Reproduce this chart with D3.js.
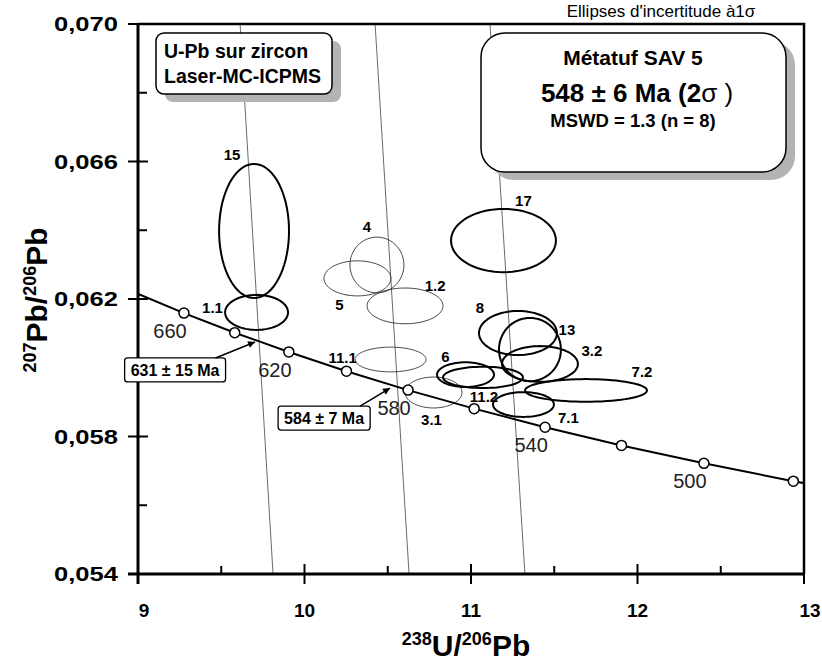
<!DOCTYPE html>
<html>
<head>
  <meta charset="UTF-8" />
  <title>Concordia SAV 5</title>
  <script src="https://d3js.org/d3.v7.min.js"></script>
  <style>
    body { margin: 0; background: #fff; }
    svg { font-family: "Liberation Sans", Arial, sans-serif; }
    .tick-label { font-weight: bold; font-size: 19px; }
    .ell-label { font-weight: bold; font-size: 15px; }
    .age-label { font-size: 20px; fill: #222; }
  </style>
</head>
<body>
<svg id="chart" width="822" height="664"></svg>
<script>
  // ---- données ----
  const xTicks = [9, 10, 11, 12, 13];
  const xMinor = [9.5, 10.5, 11.5, 12.5];
  const yTicks = [0.054, 0.058, 0.062, 0.066, 0.070];
  const yMinor = [0.056, 0.060, 0.064, 0.068];

  // courbe concordia (âges en Ma)
  const concAges = [680, 660, 640, 620, 600, 580, 560, 540, 520, 500, 480, 470];
  const concX = [8.989, 9.276, 9.581, 9.906, 10.252, 10.622, 11.019, 11.445, 11.904, 12.399, 12.936, 13.222];
  const concY = [0.06217, 0.06159, 0.06102, 0.06046, 0.05990, 0.05935, 0.05881, 0.05827, 0.05774, 0.05722, 0.05670, 0.05645];
  const markedAges = [660, 640, 620, 600, 580, 560, 540, 520, 500, 480];
  const labelledAges = [660, 620, 580, 540, 500];

  // ellipses d'incertitude (1 sigma)
  const spots = ["15", "1.1", "4", "5", "1.2", "17", "11.1", "3.1", "8", "13", "3.2", "6", "11.2", "7.2", "7.1"];
  const spotX = [9.697, 9.712, 10.435, 10.318, 10.604, 11.195, 10.517, 10.775, 11.282, 11.354, 11.414, 10.967, 11.072, 11.691, 11.315];
  const spotY = [0.06398, 0.06161, 0.06299, 0.06260, 0.06180, 0.06370, 0.06024, 0.05928, 0.06101, 0.06053, 0.06011, 0.05980, 0.05972, 0.05934, 0.05893];
  const spotSx = [0.210, 0.189, 0.162, 0.201, 0.228, 0.315, 0.213, 0.171, 0.234, 0.186, 0.228, 0.171, 0.240, 0.366, 0.183];
  const spotSy = [0.00195, 0.00051, 0.00081, 0.00051, 0.00052, 0.00092, 0.00036, 0.00045, 0.00064, 0.00092, 0.00052, 0.00036, 0.00031, 0.00033, 0.00036];
  const spotUsed = [true, true, false, false, false, true, false, false, true, true, true, true, true, true, true];
  // décalage des numéros (px) par rapport au centre
  const spotLabelDx = [-22, -44, -10, -18, 30, 20, -48, -2, -38, 37, 52, -20, 1, 56, 45];
  const spotLabelDy = [-71, 1, -33, 32, -15, -35, 3, 32, -20, -15, -8, -13, 25, -13, 18];

  // droites de référence (x en haut à 0,070, x en bas à 0,054)
  const refTopX = [9.613, 10.424, 11.114];
  const refBottomX = [9.811, 10.628, 11.324];

  // intercepts
  const interceptText = ["631 ± 15 Ma", "584 ± 7 Ma"];
  const interceptX = [9.703, 10.514];
  const interceptY = [0.06075, 0.05941];

  // ---- mise en page ----
  const margin = { left: 138, right: 18, top: 24, bottom: 90 };
  const width = 822, height = 664;
  const svg = d3.select("#chart");

  const x = d3.scaleLinear().domain([9, 13]).range([margin.left, width - margin.right]);
  const y = d3.scaleLinear().domain([0.054, 0.070]).range([height - margin.bottom, margin.top]);

  svg.append("defs").append("clipPath").attr("id", "plot")
    .append("rect")
    .attr("x", x(9)).attr("y", y(0.070))
    .attr("width", x(13) - x(9)).attr("height", y(0.054) - y(0.070));

  const markers = svg.select("defs").append("marker")
    .attr("id", "arrow").attr("viewBox", "0 -5 10 10")
    .attr("refX", 10).attr("refY", 0)
    .attr("markerWidth", 10).attr("markerHeight", 7)
    .attr("markerUnits", "userSpaceOnUse")
    .attr("orient", "auto");
  markers.append("path").attr("d", "M0,-5L10,0L0,5Z").attr("fill", "#000");

  const plot = svg.append("g").attr("clip-path", "url(#plot)");

  // droites fines
  plot.selectAll(".ref").data(refTopX).enter().append("line")
    .attr("x1", d => x(d)).attr("y1", y(0.070))
    .attr("x2", (d, i) => x(refBottomX[i])).attr("y2", y(0.054))
    .attr("stroke", "#444").attr("stroke-width", 0.8);

  // ellipses
  const ellipsePath = i => {
    const pts = d3.range(0, 73).map(k => {
      const a = k / 72 * 2 * Math.PI;
      return [x(spotX[i] + spotSx[i] * Math.cos(a)), y(spotY[i] + spotSy[i] * Math.sin(a))];
    });
    return d3.line()(pts) + "Z";
  };
  plot.selectAll(".ell").data(spots).enter().append("path")
    .attr("d", (d, i) => ellipsePath(i))
    .attr("fill", "none")
    .attr("stroke", (d, i) => spotUsed[i] ? "#000" : "#333")
    .attr("stroke-width", (d, i) => spotUsed[i] ? 2 : 0.9);

  svg.selectAll(".ell-label").data(spots).enter().append("text")
    .attr("class", "ell-label")
    .attr("x", (d, i) => x(spotX[i]) + spotLabelDx[i])
    .attr("y", (d, i) => y(spotY[i]) + spotLabelDy[i])
    .attr("text-anchor", "middle")
    .text(d => d);

  // concordia
  plot.append("path")
    .attr("d", d3.line().x((d, i) => x(concX[i])).y((d, i) => y(concY[i]))(concAges))
    .attr("fill", "none").attr("stroke", "#000").attr("stroke-width", 2);

  plot.selectAll(".mk").data(markedAges).enter().append("circle")
    .attr("cx", d => x(concX[concAges.indexOf(d)]))
    .attr("cy", d => y(concY[concAges.indexOf(d)]))
    .attr("r", 5).attr("fill", "#fff").attr("stroke", "#000").attr("stroke-width", 1.5);

  svg.selectAll(".age-label").data(labelledAges).enter().append("text")
    .attr("class", "age-label")
    .attr("x", d => x(concX[concAges.indexOf(d)]) - 14)
    .attr("y", d => y(concY[concAges.indexOf(d)]) + 25)
    .attr("text-anchor", "middle")
    .text(d => d);

  // ---- axes ----
  const frame = svg.append("g");
  frame.append("path")
    .attr("d", `M${x(9)},${y(0.070)}H${x(13)}V${y(0.054)}`)
    .attr("fill", "none").attr("stroke", "#000").attr("stroke-width", 2.5);

  const xAxis = svg.append("g").attr("transform", `translate(0,${y(0.054)})`);
  xAxis.append("line").attr("x1", x(9) - 10).attr("x2", x(13)).attr("stroke", "#000").attr("stroke-width", 3);
  xAxis.selectAll(".xt").data(xTicks).enter().append("line")
    .attr("x1", d => x(d)).attr("x2", d => x(d)).attr("y1", -10).attr("y2", 10)
    .attr("stroke", "#000").attr("stroke-width", 2);
  xAxis.selectAll(".xm").data(xMinor).enter().append("line")
    .attr("x1", d => x(d)).attr("x2", d => x(d)).attr("y1", -8).attr("y2", 0)
    .attr("stroke", "#000").attr("stroke-width", 2);
  xAxis.selectAll(".xl").data(xTicks).enter().append("text")
    .attr("class", "tick-label")
    .attr("x", d => x(d) + (d === 9 || d === 13 ? 6 : 0)).attr("y", 43)
    .attr("text-anchor", "middle").text(d => d);

  const yAxis = svg.append("g").attr("transform", `translate(${x(9)},0)`);
  yAxis.append("line").attr("y1", y(0.070)).attr("y2", y(0.054) + 10).attr("stroke", "#000").attr("stroke-width", 3);
  yAxis.selectAll(".yt").data(yTicks).enter().append("line")
    .attr("y1", d => y(d)).attr("y2", d => y(d)).attr("x1", -10).attr("x2", 10)
    .attr("stroke", "#000").attr("stroke-width", 2);
  yAxis.selectAll(".ym").data(yMinor).enter().append("line")
    .attr("y1", d => y(d)).attr("y2", d => y(d)).attr("x1", 0).attr("x2", 9)
    .attr("stroke", "#000").attr("stroke-width", 2);
  yAxis.selectAll(".yl").data(yTicks).enter().append("text")
    .attr("class", "tick-label")
    .attr("x", -20).attr("y", d => y(d) + 7)
    .attr("text-anchor", "end")
    .attr("textLength", 64).attr("lengthAdjust", "spacingAndGlyphs")
    .style("font-size", "20px")
    .text(d => d3.format(".3f")(d).replace(".", ","));

  // intercepts : étiquette encadrée + flèche (par-dessus l'axe)
  const boxOffsets = [[-80, 28], [-66, 30]];
  interceptText.forEach((t, i) => {
    const tx = x(interceptX[i]), ty = y(interceptY[i]);
    const cx = tx + boxOffsets[i][0], cy = ty + boxOffsets[i][1];
    const g = svg.append("g");
    const txt = g.append("text")
      .attr("x", cx).attr("y", cy + 6)
      .attr("text-anchor", "middle")
      .attr("font-weight", "bold").attr("font-size", 16)
      .text(t);
    const bb = txt.node().getBBox();
    g.insert("rect", "text")
      .attr("x", bb.x - 6).attr("y", cy - 12)
      .attr("width", bb.width + 12).attr("height", 24)
      .attr("rx", 3).attr("fill", "#fff").attr("stroke", "#000").attr("stroke-width", 1.3);
    svg.append("line")
      .attr("x1", cx + bb.width / 2 - 4).attr("y1", cy - 12)
      .attr("x2", tx).attr("y2", ty)
      .attr("stroke", "#000").attr("stroke-width", 1.5)
      .attr("marker-end", "url(#arrow)");
  });

  // cadres de texte avec ombre
  function shadowBox(bx, by, bw, bh, r) {
    svg.append("rect").attr("x", bx + 9).attr("y", by + 8).attr("width", bw).attr("height", bh)
      .attr("rx", r).attr("fill", "#b3b3b3");
    svg.append("rect").attr("x", bx).attr("y", by).attr("width", bw).attr("height", bh)
      .attr("rx", r).attr("fill", "#fff").attr("stroke", "#000").attr("stroke-width", 1.5);
  }
  shadowBox(156, 33, 176, 61, 8);
  svg.append("text").attr("x", 164).attr("y", 58).attr("font-weight", "bold").attr("font-size", 19.5).text("U-Pb sur zircon");
  svg.append("text").attr("x", 164).attr("y", 83).attr("font-weight", "bold").attr("font-size", 19.5).text("Laser-MC-ICPMS");

  shadowBox(481, 33, 305, 139, 24);
  svg.append("text").attr("x", 633).attr("y", 65).attr("text-anchor", "middle")
    .attr("font-weight", "bold").attr("font-size", 21).text("Métatuf SAV 5");
  const l2 = svg.append("text").attr("x", 637).attr("y", 102).attr("text-anchor", "middle")
    .attr("font-weight", "bold").attr("font-size", 26);
  l2.append("tspan").text("548 ± 6 Ma (2");
  l2.append("tspan").attr("font-weight", "normal").text("σ ");
  l2.append("tspan").attr("font-weight", "normal").text(")");
  svg.append("text").attr("x", 633).attr("y", 127).attr("text-anchor", "middle")
    .attr("font-weight", "bold").attr("font-size", 18.5).text("MSWD = 1.3 (n = 8)");

  svg.append("text").attr("x", 661).attr("y", 17).attr("text-anchor", "middle")
    .attr("font-size", 17).text("Ellipses d'incertitude à1σ");

  // titres
  function isoTitle(sel, a, b, c, d) {
    sel.attr("font-weight", "bold").attr("text-anchor", "middle");
    sel.append("tspan").attr("font-size", 18).attr("dy", -11).text(a);
    sel.append("tspan").attr("font-size", 30).attr("dy", 11).text(b);
    sel.append("tspan").attr("font-size", 18).attr("dy", -11).text(c);
    sel.append("tspan").attr("font-size", 30).attr("dy", 11).text(d);
  }
  isoTitle(svg.append("text").attr("x", 466).attr("y", 656), "238", "U/", "206", "Pb");
  isoTitle(svg.append("text").attr("transform", "translate(47,300) rotate(-90)"), "207", "Pb/", "206", "Pb");
</script>
</body>
</html>
